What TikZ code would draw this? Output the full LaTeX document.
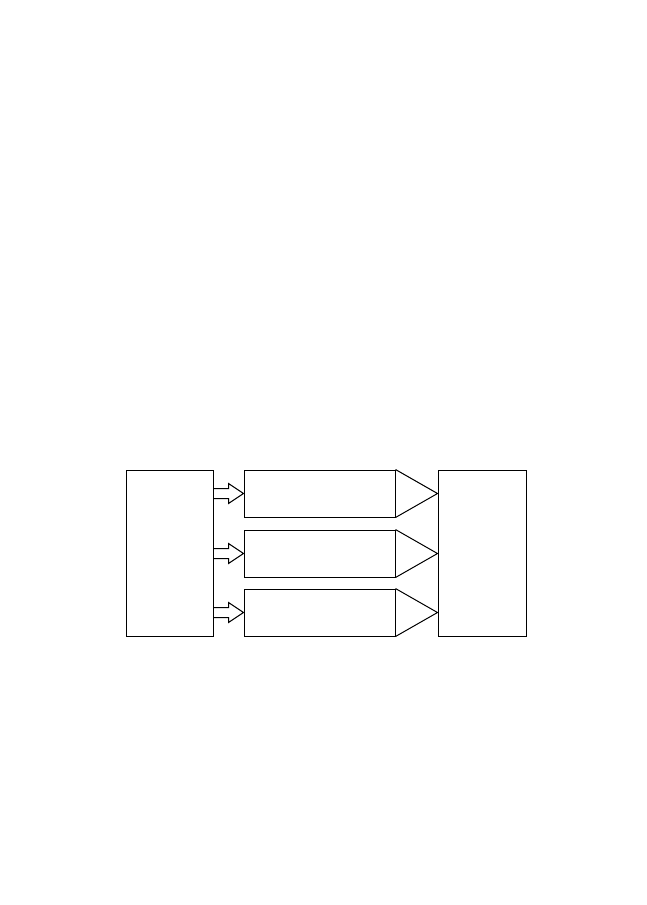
\documentclass[tikz,border=0pt]{standalone}
\usetikzlibrary{calc}
\begin{document}
\begin{tikzpicture}[x=1pt,y=-1pt]
\useasboundingbox (0,0) rectangle (647,905);
\tikzset{
  box/.style={draw, line width=1pt, inner sep=0pt, rectangle},
  arr/.style={draw, line width=1pt, line join=miter}
}
\node[box, minimum width=87pt, minimum height=166pt] (L) at (169.5,553) {};
\node[box, minimum width=88pt, minimum height=166pt] (R) at (482,553) {};
\node[box, minimum width=151pt, minimum height=47pt] (S1) at (319.5,493.5) {};
\node[box, minimum width=151pt, minimum height=47pt] (S2) at (319.5,553.5) {};
\node[box, minimum width=151pt, minimum height=47pt] (S3) at (319.5,612.5) {};
\foreach \s in {S1,S2,S3}{
  \coordinate (t\s) at (R.west |- \s.east);
  \draw[arr] (\s.north east) -- (t\s) -- (\s.south east);
  \coordinate (a\s) at (L.east |- \s.west);
  \draw[arr] ($(a\s)+(0,-5)$) -- ($(a\s)+(15,-5)$) -- ($(a\s)+(15,-10)$) -- (\s.west) -- ($(a\s)+(15,10)$) -- ($(a\s)+(15,5)$) -- ($(a\s)+(0,5)$);
}
\end{tikzpicture}
\end{document}
